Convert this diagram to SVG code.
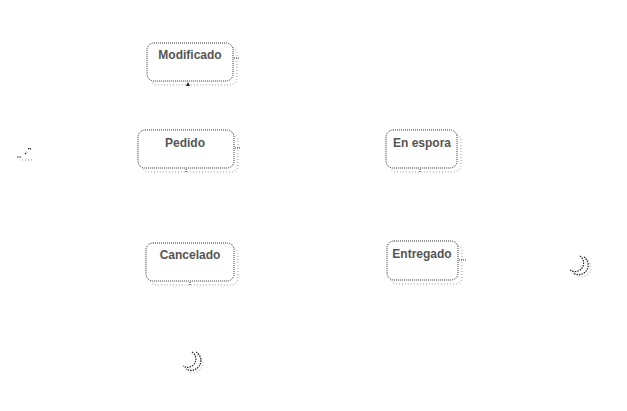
<svg xmlns="http://www.w3.org/2000/svg" width="627" height="411" viewBox="0 0 627 411">
<defs>
<style>
.box{fill:#fff;stroke:#333;stroke-width:1;stroke-dasharray:1 1}
.shadow{fill:none;stroke:#ccc;stroke-width:2;stroke-dasharray:1 2}
.lbl{font-family:"Liberation Sans",Arial,sans-serif;font-size:12px;font-weight:bold;fill:#555;text-anchor:middle}
.edge{fill:none;stroke:#333;stroke-width:1;stroke-dasharray:1 1}
.fin{fill:none;stroke:#222;stroke-width:1.2;stroke-dasharray:1.5 1}
.finsh{fill:none;stroke:#ccc;stroke-width:2;stroke-dasharray:1 2}
</style>
</defs>
<rect width="627" height="411" fill="#fff"/>
<g id="initial">
<path class="finsh" d="M22 160 L34 160"/>
<path class="fin" d="M17 157 L22 157 M25 154 L27 152 M28 149 L30 148 L31 150"/>
</g>
<g id="modificado">
<rect class="shadow" x="151" y="47" width="86" height="38" rx="7"/>
<rect class="box" x="147" y="43" width="86" height="38" rx="7"/>
<text class="lbl" x="190" y="59">Modificado</text>
</g>
<g id="pedido">
<rect class="shadow" x="142" y="134" width="96" height="38" rx="7"/>
<rect class="box" x="138" y="130" width="96" height="38" rx="7"/>
<text class="lbl" x="185" y="147">Pedido</text>
</g>
<g id="enespera">
<rect class="shadow" x="390" y="134" width="71" height="38" rx="7"/>
<rect class="box" x="386" y="130" width="71" height="38" rx="7"/>
<text class="lbl" x="422" y="147">En espora</text>
</g>
<g id="cancelado">
<rect class="shadow" x="150" y="247" width="88" height="38" rx="7"/>
<rect class="box" x="146" y="243" width="88" height="38" rx="7"/>
<text class="lbl" x="190" y="259">Cancelado</text>
</g>
<g id="entregado">
<rect class="shadow" x="391" y="245" width="71" height="39" rx="7"/>
<rect class="box" x="387" y="241" width="71" height="39" rx="7"/>
<text class="lbl" x="422" y="258">Entregado</text>
</g>
<g id="final1">
<path class="finsh" d="M197 355 A8 8 0 0 1 190 372"/>
<path class="fin" d="M192 352 A7 7 0 0 1 183 366 M196 352 A9 9 0 0 1 186 369"/>
</g>
<g id="final2">
<path class="finsh" d="M585 259 A8 8 0 0 1 578 276"/>
<path class="fin" d="M580 256 A7 7 0 0 1 570 270 M584 257 A9 9 0 0 1 573 273"/>
</g>
<g id="connectors">
<path class="edge" d="M234 58 L240 58"/>
<path d="M188 82 L186 86 L190 86 Z" fill="#222"/>
<path class="edge" d="M235 148 L240 148"/>
<path class="edge" d="M186 169 L186 173"/>
<path class="edge" d="M420 169 L420 173"/>
<path class="edge" d="M459 260 L466 260"/>
<path class="edge" d="M190 282 L190 286"/>
</g>
</svg>
